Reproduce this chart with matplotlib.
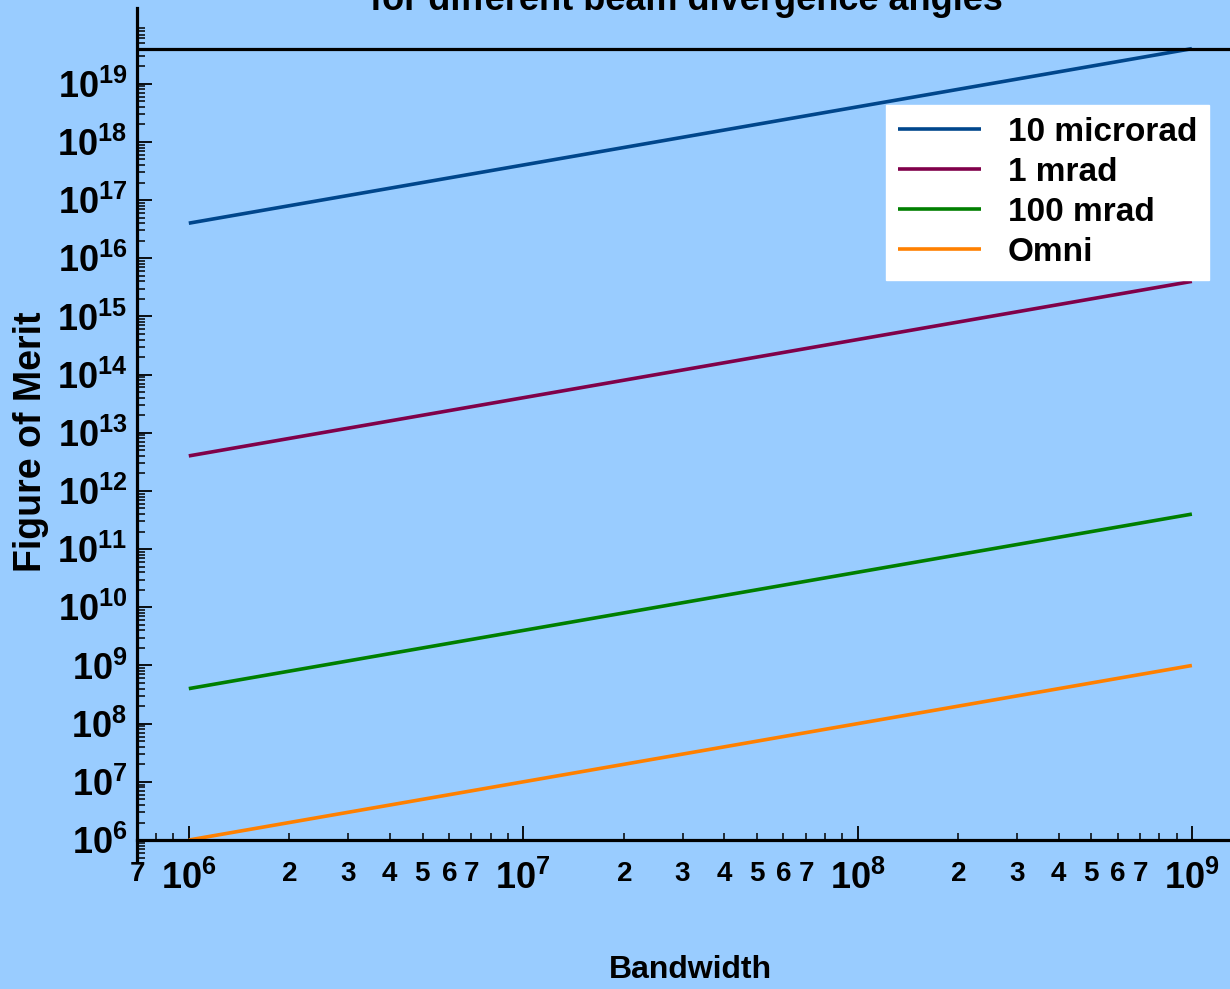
import numpy as np
import matplotlib
matplotlib.use("Agg")
import matplotlib.pyplot as plt
from matplotlib.ticker import FixedLocator, FuncFormatter, NullFormatter

# Datos (log-log, rectas)
bandwidth = [1e6, 1e7, 1e8, 1e9]
fom_10urad = [4e16, 4e17, 4e18, 4e19]
fom_1mrad = [4e12, 4e13, 4e14, 4e15]
fom_100mrad = [4e8, 4e9, 4e10, 4e11]
fom_omni = [1e6, 1e7, 1e8, 1e9]

labels = ["10 microrad", "1 mrad", "100 mrad", "Omni"]
colores = ["#00468C", "#80004A", "#007F00", "#FF8000"]

plt.rcParams['font.family'] = ['Liberation Sans', 'DejaVu Sans']
plt.rcParams['font.weight'] = 'bold'
plt.rcParams['mathtext.fontset'] = 'custom'
plt.rcParams['mathtext.rm'] = 'Liberation Sans:bold'
plt.rcParams['mathtext.it'] = 'Liberation Sans:bold'
plt.rcParams['mathtext.bf'] = 'Liberation Sans:bold'

fondo = "#99CCFF"
fig = plt.figure(figsize=(12.3, 9.89), dpi=100, facecolor=fondo)
ax = fig.add_axes([137 / 1230, 127 / 989, 1 - 137 / 1230, 854 / 989])
ax.set_facecolor(fondo)

for serie, lab, col in zip([fom_10urad, fom_1mrad, fom_100mrad, fom_omni], labels, colores):
    ax.plot(bandwidth, serie, color=col, lw=2.6, label=lab, solid_capstyle='butt')

ax.set_xscale('log')
ax.set_yscale('log')
ax.set_xlim(7e5, 1.3e9)
ax.set_ylim(4.19e5, 2.0e20)

# linea superior en el maximo
ax.axhline(4e19, color='black', lw=2.3)

# ejes
ax.spines['top'].set_visible(False)
ax.spines['right'].set_visible(False)
ax.spines['left'].set_linewidth(2.3)
ax.spines['bottom'].set_linewidth(2.3)
ax.spines['bottom'].set_position(('data', 1e6))

# ticks eje y
ymaj = [10.0 ** n for n in range(6, 20)]
ymin = [k * 10.0 ** n for n in range(5, 20) for k in range(2, 10)]
ymin = [v for v in ymin if 4.5e5 < v < 1e20]
ax.yaxis.set_major_locator(FixedLocator(ymaj))
ax.yaxis.set_minor_locator(FixedLocator(ymin))
ax.yaxis.set_major_formatter(FuncFormatter(lambda v, p: r'$10^{%d}$' % round(np.log10(v))))
ax.yaxis.set_minor_formatter(NullFormatter())

# ticks eje x
xmaj = [1e6, 1e7, 1e8, 1e9]
xmin = [k * 10.0 ** n for n in range(5, 9) for k in range(2, 10)]
xmin = [v for v in xmin if 6.9e5 < v < 1.3e9]
ax.xaxis.set_major_locator(FixedLocator(xmaj))
ax.xaxis.set_minor_locator(FixedLocator(xmin))
ax.xaxis.set_major_formatter(FuncFormatter(lambda v, p: r'$10^{%d}$' % round(np.log10(v))))


def etiqueta_menor(v, p):
    k = int(round(v / 10.0 ** np.floor(np.log10(v) + 1e-9)))
    return r'$%d$' % k if k <= 7 else ''


ax.xaxis.set_minor_formatter(FuncFormatter(etiqueta_menor))

ax.tick_params(axis='both', which='both', direction='in', color='black')
ax.tick_params(axis='y', which='major', length=11, width=1.3, labelsize=26, pad=7)
ax.tick_params(axis='y', which='minor', length=6, width=1.1)
ax.tick_params(axis='x', which='major', length=10, width=1.3, labelsize=26, pad=15)
ax.tick_params(axis='x', which='minor', length=5, width=1.1, labelsize=20, pad=15)

# leyenda
leg = ax.legend(loc='upper left', bbox_to_anchor=(0.6853, 0.8864), fontsize=24,
                frameon=True, fancybox=False, facecolor='white', edgecolor='white',
                framealpha=1, borderaxespad=0, borderpad=0.36, handlelength=2.5,
                handletextpad=0.8, labelspacing=0.27)
for l in leg.get_lines():
    l.set_linewidth(2.6)

# textos
fig.text(686 / 1230, 1 - 10 / 989, "for different beam divergence angles", ha='center',
         va='baseline', fontsize=26, fontweight='bold')
fig.text(690 / 1230, 1 - 970 / 989, "Bandwidth", ha='center', va='center',
         fontsize=23, fontweight='bold')
fig.text(31 / 1230, 1 - 442 / 989, "Figure of Merit", ha='center', va='center',
         rotation=90, fontsize=27, fontweight='bold')

fig.savefig("out.png", dpi=100, facecolor=fondo)
